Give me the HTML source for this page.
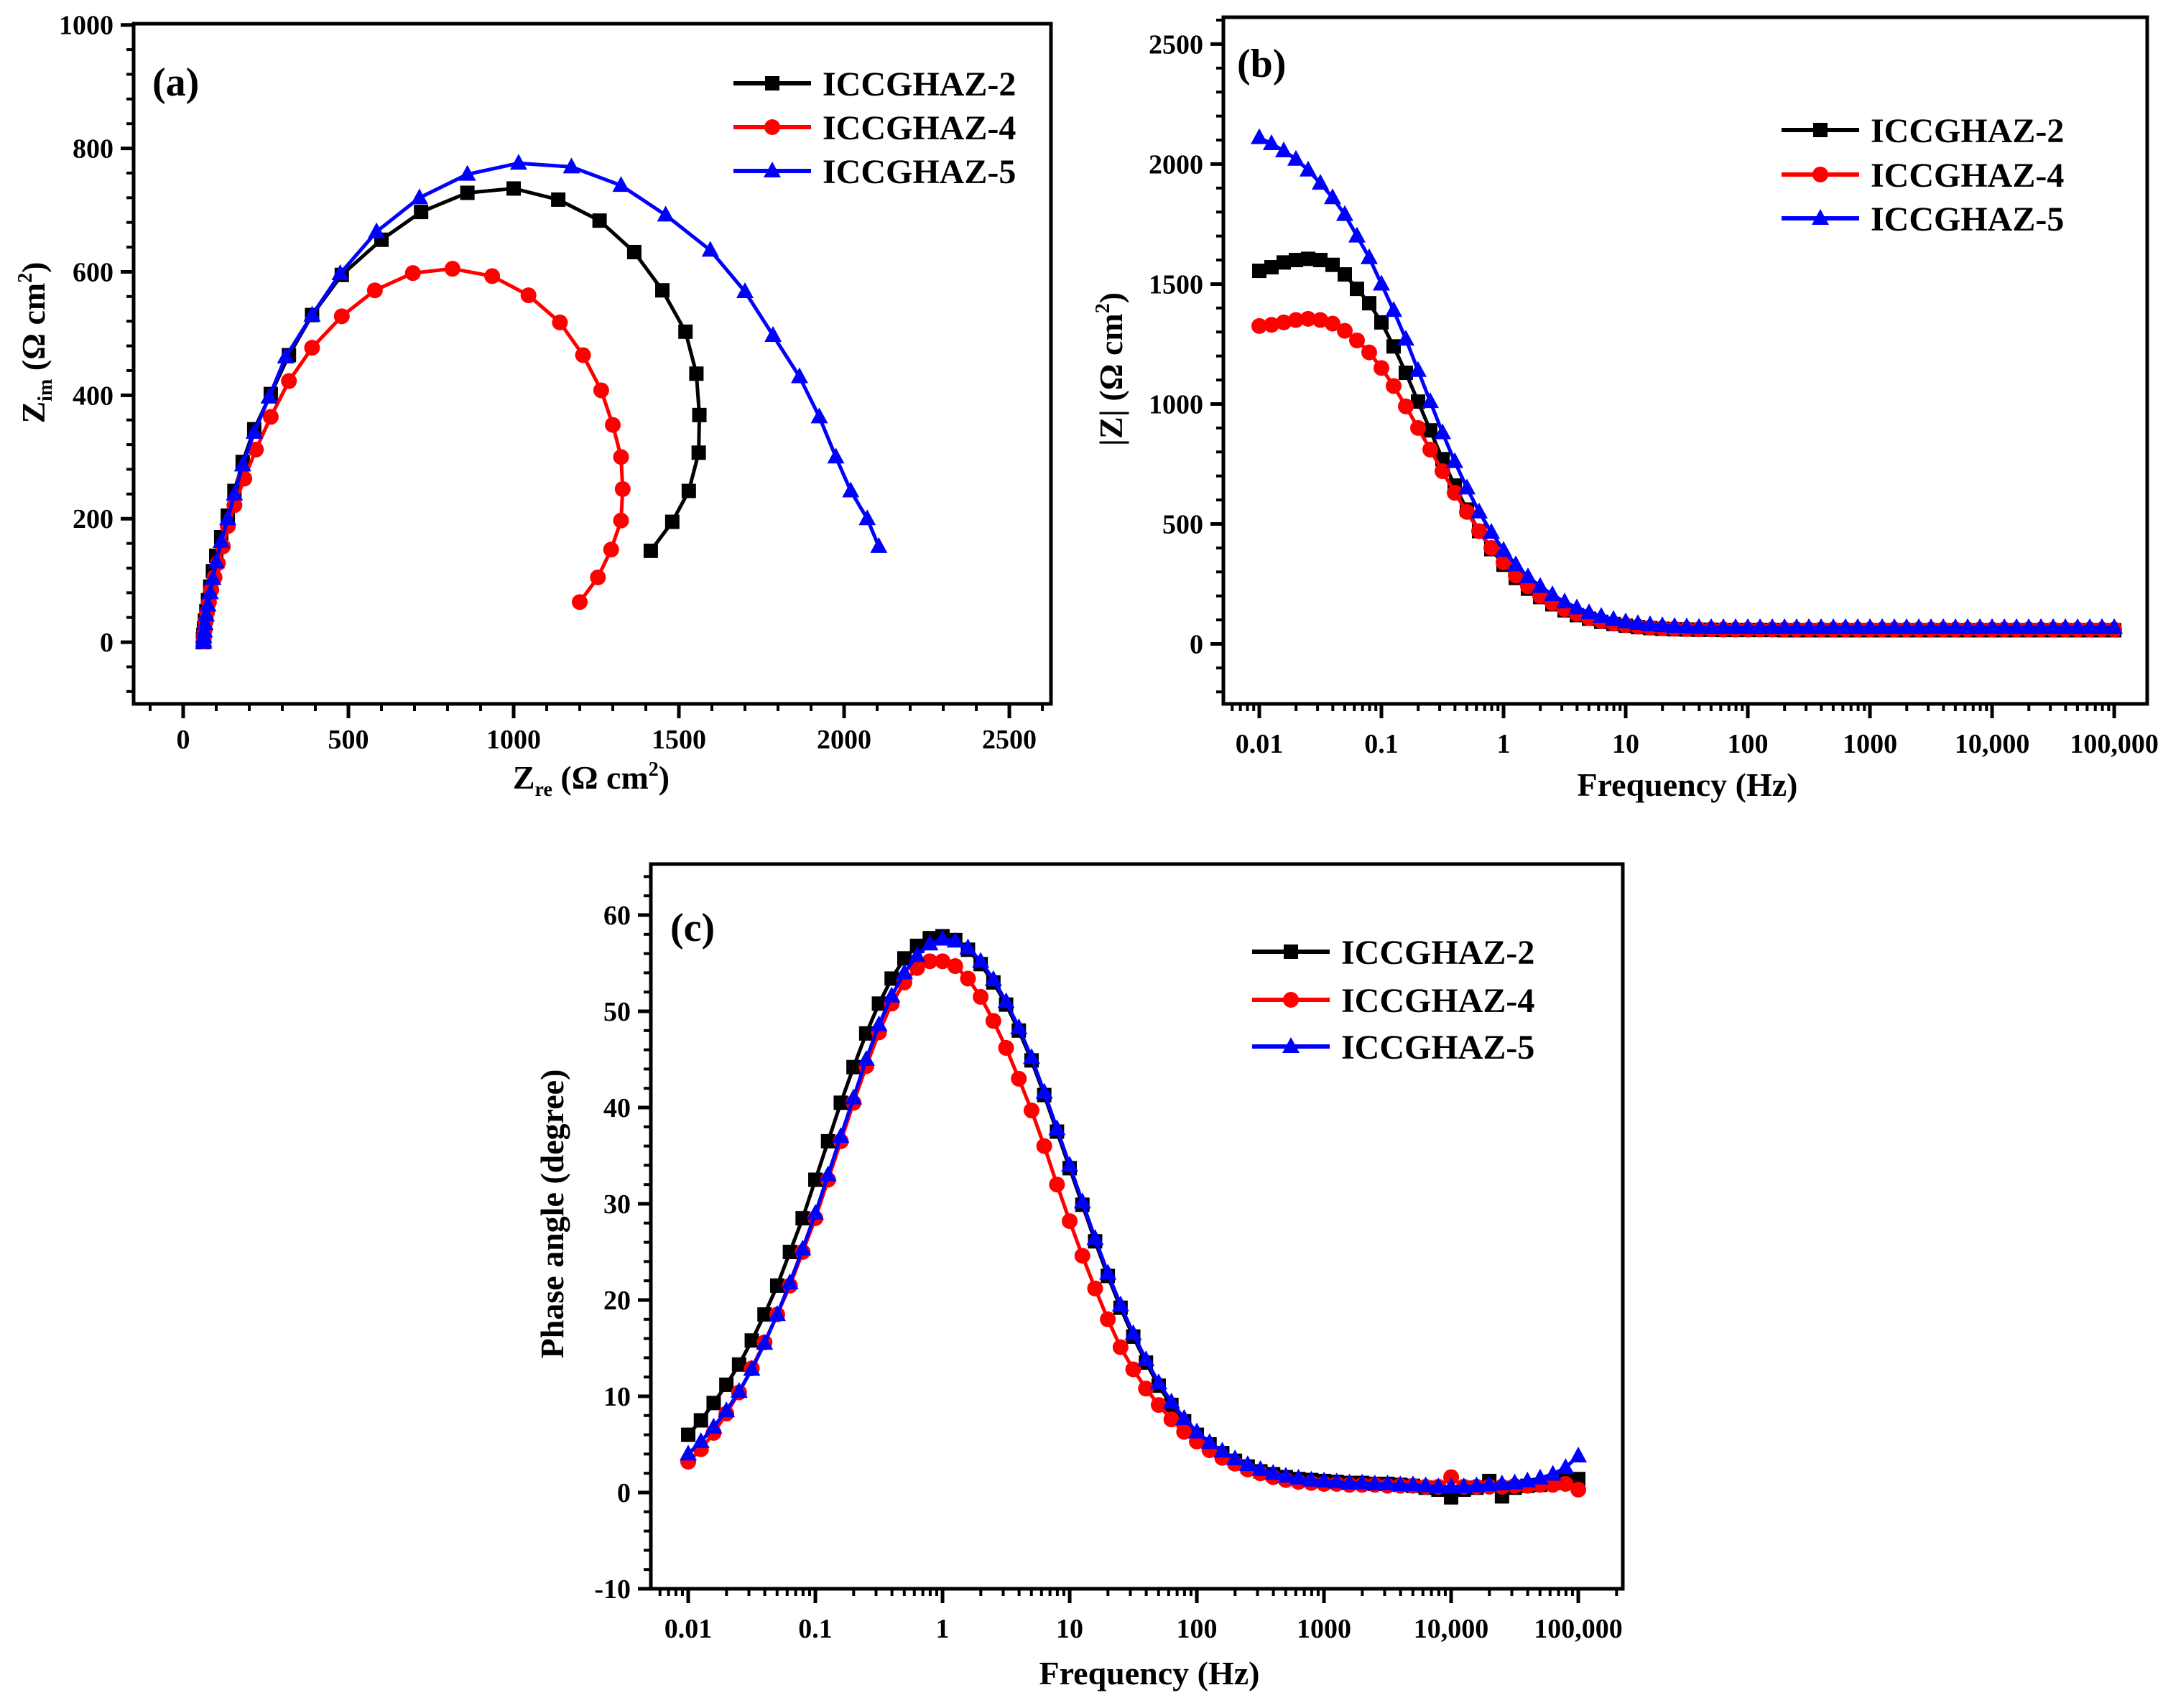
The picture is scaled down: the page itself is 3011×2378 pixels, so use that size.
<!DOCTYPE html>
<html><head><meta charset="utf-8"><style>
html,body{margin:0;padding:0;background:#fff;}
svg{display:block;font-family:"Liberation Serif",serif;font-weight:bold;}
</style></head><body>
<svg id="fig" width="3011" height="2378" viewBox="0 0 3011 2378" xmlns="http://www.w3.org/2000/svg"></svg>
<script>
// ---------- Panel (a) Nyquist data ----------
const nyqX2 = [1415,1480,1530,1560,1562,1553,1520,1450,1365,1260,1135,1000,860,720,600,480,390,320,265,215,180,155,135,115,100,90,82,75,70,66,63,61,60,60,60];
const nyqY2 = [148,195,245,307,368,435,503,570,632,683,717,735,728,697,652,595,530,465,402,345,292,245,205,170,140,115,90,68,50,35,22,12,5,2,0];
const nyqX4 = [1200,1255,1295,1325,1330,1325,1300,1265,1210,1140,1045,935,815,695,580,480,390,320,265,220,185,155,135,120,105,95,85,78,72,68,65,63,62,62];
const nyqY4 = [65,105,150,197,248,300,352,408,465,518,562,593,605,598,570,528,477,423,365,312,265,222,188,155,128,105,85,65,48,33,20,10,4,1];
const nyqX5 = [2105,2070,2020,1975,1925,1865,1785,1700,1595,1460,1325,1175,1015,860,715,585,475,390,310,260,215,180,155,135,115,100,90,82,75,70,66,64,62,62,62];
const nyqY5 = [155,200,245,300,365,430,497,568,635,692,740,770,776,758,720,665,597,530,462,397,340,287,240,200,163,130,103,80,60,44,30,18,9,3,0];
const nyqXTicks = [0,500,1000,1500,2000,2500];
const nyqYTicks = [0,200,400,600,800,1000];

// ---------- Frequency (log10 Hz) ----------
const logFreq = [-2,-1.9,-1.8,-1.7,-1.6,-1.5,-1.4,-1.3,-1.2,-1.1,-1,-0.9,-0.8,-0.7,-0.6,-0.5,-0.4,-0.3,-0.2,-0.1,0,0.1,0.2,0.3,0.4,0.5,0.6,0.7,0.8,0.9,1,1.1,1.2,1.3,1.4,1.5,1.6,1.7,1.8,1.9,2,2.1,2.2,2.3,2.4,2.5,2.6,2.7,2.8,2.9,3,3.1,3.2,3.3,3.4,3.5,3.6,3.7,3.8,3.9,4,4.1,4.2,4.3,4.4,4.5,4.6,4.7,4.8,4.9,5];
const freqTickLabels = ["0.01","0.1","1","10","100","1000","10,000","100,000"];

// ---------- Panel (b) |Z| ----------
const modZ2 = [1555,1570,1590,1600,1605,1600,1580,1540,1480,1420,1340,1240,1130,1010,890,770,660,560,470,395,330,275,230,195,165,140,120,105,92,83,76,70,66,63,61,60,59,59,58,58,58,58,58,57,57,57,57,57,57,57,57,57,57,57,57,57,57,57,57,57,57,57,57,57,57,57,57,57,57,57,57];
const modZ4 = [1325,1330,1340,1350,1355,1350,1335,1305,1265,1215,1150,1075,990,900,810,720,630,550,470,400,340,285,240,200,170,145,125,108,95,85,78,72,68,65,63,62,61,61,60,60,60,60,60,60,60,60,60,60,60,60,60,60,60,60,60,60,60,60,60,60,60,60,60,60,60,60,60,60,60,60,60];
const modZ5 = [2110,2085,2055,2020,1975,1920,1860,1790,1700,1610,1500,1390,1270,1140,1010,880,760,650,550,465,390,330,280,240,205,175,150,130,115,102,92,85,80,76,73,71,69,68,68,68,68,68,68,68,68,68,68,68,68,68,68,68,68,68,68,68,68,68,68,68,68,68,68,68,68,68,68,68,68,68,68];
const modZTicks = [0,500,1000,1500,2000,2500];

// ---------- Panel (c) Phase ----------
const phase2 = [6,7.5,9.3,11.2,13.3,15.8,18.5,21.5,25,28.5,32.5,36.5,40.5,44.2,47.7,50.8,53.4,55.5,56.8,57.6,57.8,57.4,56.4,54.9,53,50.7,48,44.9,41.3,37.5,33.7,29.9,26.1,22.5,19.2,16.2,13.5,11.1,9.1,7.4,6.0,5.0,4.1,3.3,2.7,2.2,1.9,1.6,1.4,1.3,1.2,1.1,1.0,1.0,0.9,0.9,0.8,0.7,0.5,0.3,-0.5,0.3,0.5,1.2,-0.4,0.5,0.7,0.8,1.0,1.2,1.4];
const phase4 = [3.2,4.5,6.2,8.2,10.4,12.9,15.6,18.5,21.5,25,28.5,32.5,36.5,40.5,44.3,47.8,50.8,53,54.5,55.2,55.2,54.7,53.4,51.5,49,46.2,43,39.7,36,32,28.2,24.6,21.2,18,15.1,12.8,10.8,9.1,7.6,6.3,5.3,4.4,3.6,3.0,2.4,2.0,1.6,1.3,1.1,1.0,0.9,0.9,0.8,0.8,0.8,0.7,0.7,0.7,0.6,0.6,1.6,0.6,0.6,0.6,0.6,0.7,0.7,0.8,0.8,0.9,0.3];
const phase5 = [4,5.3,6.8,8.5,10.5,12.8,15.5,18.5,21.8,25.3,29,33,37,41,45,48.6,51.6,54,55.8,57,57.5,57.3,56.6,55.2,53.3,51,48.3,45.2,41.6,37.8,34,30.2,26.4,22.8,19.5,16.5,13.8,11.4,9.4,7.7,6.3,5.2,4.3,3.5,2.9,2.4,2.0,1.7,1.5,1.3,1.2,1.1,1.0,1.0,0.9,0.9,0.8,0.8,0.7,0.6,0.6,0.6,0.7,0.8,0.9,1.0,1.2,1.5,1.9,2.6,3.8];
const phaseTicks = [-10,0,10,20,30,40,50,60];

const seriesNames = ["ICCGHAZ-2","ICCGHAZ-4","ICCGHAZ-5"];
const seriesColors = ["#000000","#ff0000","#0000ff"];
const seriesMarkers = ["square","circle","triangle"];

const NS = "http://www.w3.org/2000/svg";
const svg = document.getElementById("fig");
function mk(tag, attrs, parent){
  const e = document.createElementNS(NS, tag);
  for (const k in attrs) e.setAttribute(k, attrs[k]);
  (parent||svg).appendChild(e);
  return e;
}
function linScale(d0,d1,r0,r1){ return v => r0 + (v-d0)/(d1-d0)*(r1-r0); }

function marker(g, type, x, y, color){
  let e;
  if (type==="square"){
    e = mk("rect",{x:x-10,y:y-10,width:20,height:20,fill:color},g);
  } else if (type==="circle"){
    e = mk("circle",{cx:x,cy:y,r:11,fill:color},g);
  } else {
    e = mk("polygon",{points:`${x},${y-13} ${x+12},${y+9} ${x-12},${y+9}`,fill:color},g);
  }
  
  
}

function drawSeries(panel, xs, ys, sx, sy, idx){
  const g = mk("g",{});
  
  
  const pts = xs.map((x,i)=>sx(x)+","+sy(ys[i])).join(" ");
  const pl = mk("polyline",{points:pts,fill:"none",stroke:seriesColors[idx],"stroke-width":5,"stroke-linejoin":"round"},g);
  
  
  xs.forEach((x,i)=>marker(g, seriesMarkers[idx], sx(x), sy(ys[i]), seriesColors[idx]));
}

function frame(panel, L,T,R,B){
  const r = mk("rect",{x:L,y:T,width:R-L,height:B-T,fill:"none",stroke:"#000","stroke-width":5});
  
  
}

function yAxis(panel, L, sy, ticks, minorStep, dmin, dmax){
  const g = mk("g",{});
  
  
  for (let v=Math.ceil(dmin/minorStep)*minorStep; v<=dmax+1e-9; v+=minorStep){
    mk("line",{x1:L-10,y1:sy(v),x2:L,y2:sy(v),stroke:"#000","stroke-width":4},g);
  }
  ticks.forEach(v=>{
    mk("line",{x1:L-18,y1:sy(v),x2:L,y2:sy(v),stroke:"#000","stroke-width":5},g);
    const t = mk("text",{x:L-28,y:sy(v)+13,"text-anchor":"end","font-size":38},g);
    t.textContent = v;
    
    
  });
}

function xAxisLin(panel, B, sx, ticks, minorStep, dmin, dmax){
  const g = mk("g",{});
  
  
  for (let v=Math.ceil(dmin/minorStep)*minorStep; v<=dmax+1e-9; v+=minorStep){
    mk("line",{x1:sx(v),y1:B,x2:sx(v),y2:B+10,stroke:"#000","stroke-width":4},g);
  }
  ticks.forEach(v=>{
    mk("line",{x1:sx(v),y1:B,x2:sx(v),y2:B+20,stroke:"#000","stroke-width":5},g);
    const t = mk("text",{x:sx(v),y:B+62,"text-anchor":"middle","font-size":38},g);
    t.textContent = v;
    
    
  });
}

function xAxisLog(panel, B, sx, dmin, dmax){
  const g = mk("g",{});
  
  
  for (let d=Math.floor(dmin); d<=Math.ceil(dmax); d++){
    for (let m=2; m<=9; m++){
      const lv = d+Math.log10(m);
      if (lv<dmin||lv>dmax) continue;
      mk("line",{x1:sx(lv),y1:B,x2:sx(lv),y2:B+10,stroke:"#000","stroke-width":4},g);
    }
  }
  freqTickLabels.forEach((lab,i)=>{
    const lv = -2+i;
    mk("line",{x1:sx(lv),y1:B,x2:sx(lv),y2:B+20,stroke:"#000","stroke-width":5},g);
    const t = mk("text",{x:sx(lv),y:B+68,"text-anchor":"middle","font-size":38},g);
    t.textContent = lab;
    
    
  });
}

function legend(panel, x0, rows){
  const g = mk("g",{});
  
  
  rows.forEach((y,i)=>{
    const e = mk("g",{},g);
    
    
    mk("line",{x1:x0,y1:y,x2:x0+108,y2:y,stroke:seriesColors[i],"stroke-width":6},e);
    marker(e, seriesMarkers[i], x0+54, y, seriesColors[i]);
    const t = mk("text",{x:x0+124,y:y+17,"font-size":48},e);
    t.textContent = seriesNames[i];
  });
}

function label(panel, txt, x, y){
  const t = mk("text",{x:x,y:y,"font-size":56});
  t.textContent = txt;
  
  
}

// ===== Panel (a) =====
{
  const L=186,T=33,R=1463,B=980;
  const sx = linScale(-150,2626,L,R), sy = linScale(-100,1002,B,T);
  drawSeries("a", nyqX2, nyqY2, sx, sy, 0);
  drawSeries("a", nyqX4, nyqY4, sx, sy, 1);
  drawSeries("a", nyqX5, nyqY5, sx, sy, 2);
  frame("a",L,T,R,B);
  yAxis("a", L, sy, nyqYTicks, 40, -100, 1002);
  xAxisLin("a", B, sx, nyqXTicks, 100, -150, 2626);
  legend("a", 1021, [116,177,238]);
  label("a","(a)",212,133);
  const xt = mk("text",{x:823,y:1098,"text-anchor":"middle","font-size":46});
  xt.innerHTML = 'Z<tspan font-size="28" dy="10">re</tspan><tspan dy="-10"> (Ω cm</tspan><tspan font-size="28" dy="-18">2</tspan><tspan dy="18">)</tspan>';
  
  
  const yt = mk("text",{x:0,y:0,"text-anchor":"middle","font-size":46,transform:"translate(62,477) rotate(-90)"});
  yt.innerHTML = 'Z<tspan font-size="28" dy="10">im</tspan><tspan dy="-10"> (Ω cm</tspan><tspan font-size="28" dy="-18">2</tspan><tspan dy="18">)</tspan>';
  
  
}

// ===== Panel (b) =====
{
  const L=1703,T=24,R=2989,B=980;
  const sx = linScale(-2.294,5.27,L,R), sy = linScale(-250,2612,B,T);
  drawSeries("b", logFreq, modZ2, sx, sy, 0);
  drawSeries("b", logFreq, modZ4, sx, sy, 1);
  drawSeries("b", logFreq, modZ5, sx, sy, 2);
  frame("b",L,T,R,B);
  yAxis("b", L, sy, modZTicks, 100, -250, 2612);
  xAxisLog("b", B, sx, -2.294, 5.27);
  legend("b", 2480, [181,243,304]);
  label("b","(b)",1722,107);
  const xt = mk("text",{x:2349,y:1108,"text-anchor":"middle","font-size":46});
  xt.textContent = "Frequency (Hz)";
  
  
  const yt = mk("text",{x:0,y:0,"text-anchor":"middle","font-size":46,transform:"translate(1562,514) rotate(-90)"});
  yt.innerHTML = '|Z| (Ω cm<tspan font-size="28" dy="-18">2</tspan><tspan dy="18">)</tspan>';
  
  
}

// ===== Panel (c) =====
{
  const L=906,T=1203,R=2259,B=2212;
  const sx = linScale(-2.294,5.35,L,R), sy = linScale(-10,65.3,B,T);
  drawSeries("c", logFreq, phase2, sx, sy, 0);
  drawSeries("c", logFreq, phase4, sx, sy, 1);
  drawSeries("c", logFreq, phase5, sx, sy, 2);
  frame("c",L,T,R,B);
  yAxis("c", L, sy, phaseTicks, 2, -10, 65.3);
  xAxisLog("c", B, sx, -2.294, 5.35);
  legend("c", 1743, [1325,1392,1457]);
  label("c","(c)",933,1310);
  const xt = mk("text",{x:1600,y:2345,"text-anchor":"middle","font-size":46});
  xt.textContent = "Frequency (Hz)";
  
  
  const yt = mk("text",{x:0,y:0,"text-anchor":"middle","font-size":46,transform:"translate(784,1690) rotate(-90)"});
  yt.textContent = "Phase angle (degree)";
  
  
}
</script>
</body></html>
